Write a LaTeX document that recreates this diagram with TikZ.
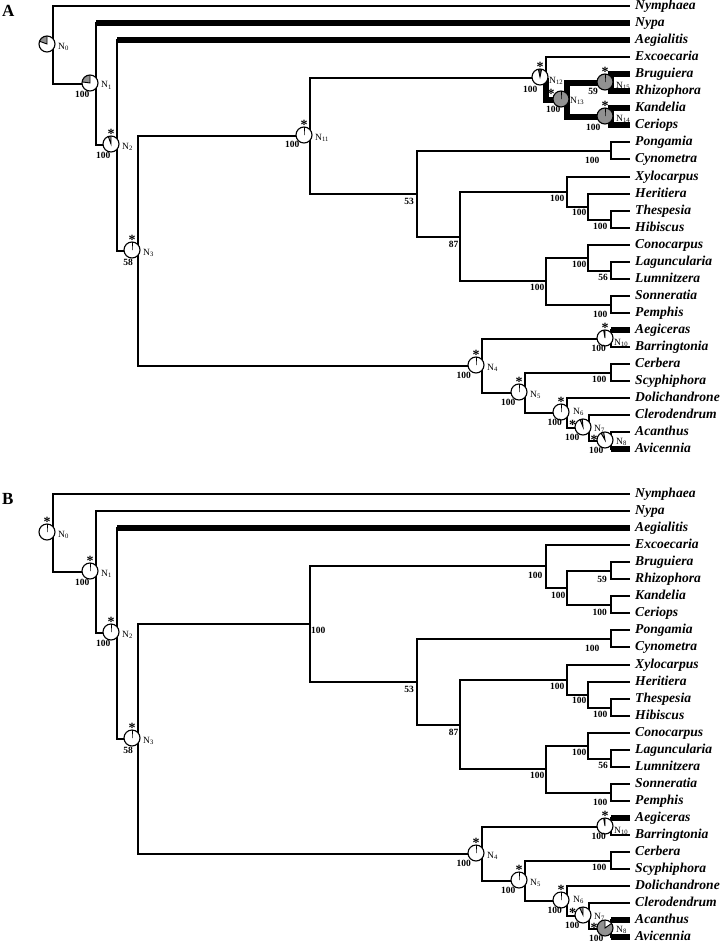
\documentclass[tikz,border=0pt]{standalone}
\usepackage{fontspec}
\setmainfont{Liberation Serif}

\definecolor{stategrey}{RGB}{145,145,145}

\tikzset{
  branch/.style={line width=2pt},
  heavy/.style={line width=6pt},
  taxon/.style={anchor=west, inner xsep=5pt, inner ysep=0pt, text height=1.6ex, text depth=.25ex,
    font=\fontsize{13.6}{14}\selectfont\bfseries\itshape},
  boot/.style={anchor=north east, inner sep=0pt, font=\fontsize{9.5}{10}\selectfont\bfseries},
  nlab/.style={anchor=base west, inner sep=0pt, font=\fontsize{9.5}{10}\selectfont},
  ast/.style={anchor=base, inner sep=0pt, font=\fontsize{14}{14}\selectfont\bfseries},
  panel/.style={anchor=base west, inner sep=0pt, font=\fontsize{17}{17}\selectfont\bfseries},
  pics/statepie/.style n args={3}{code={
    \begin{scope}[x=1pt,y=1pt]
      \fill[white] (0,0) circle (8);
      \fill[#1] (0,0) -- (#2:8) arc[start angle=#2, end angle=#3, radius=8] -- cycle;
      \draw[line width=.9pt] (#2:8) -- (0,0) -- (#3:8);
      \draw[line width=1.1pt] (0,0) circle (8);
    \end{scope}}}
}

% the tree shared by both panels
\newcommand{\mangrovetree}{%
  \node[taxon] (Nymphaea) at (630,5) {Nymphaea};
  \node[taxon] (Nypa) at (630,22) {Nypa};
  \node[taxon] (Aegialitis) at (630,39) {Aegialitis};
  \node[taxon] (Excoecaria) at (630,56) {Excoecaria};
  \node[taxon] (Bruguiera) at (630,73) {Bruguiera};
  \node[taxon] (Rhizophora) at (630,90) {Rhizophora};
  \node[taxon] (Kandelia) at (630,107) {Kandelia};
  \node[taxon] (Ceriops) at (630,124) {Ceriops};
  \node[taxon] (Pongamia) at (630,141) {Pongamia};
  \node[taxon] (Cynometra) at (630,158) {Cynometra};
  \node[taxon] (Xylocarpus) at (630,176) {Xylocarpus};
  \node[taxon] (Heritiera) at (630,193) {Heritiera};
  \node[taxon] (Thespesia) at (630,210) {Thespesia};
  \node[taxon] (Hibiscus) at (630,227) {Hibiscus};
  \node[taxon] (Conocarpus) at (630,244) {Conocarpus};
  \node[taxon] (Laguncularia) at (630,261) {Laguncularia};
  \node[taxon] (Lumnitzera) at (630,278) {Lumnitzera};
  \node[taxon] (Sonneratia) at (630,295) {Sonneratia};
  \node[taxon] (Pemphis) at (630,312) {Pemphis};
  \node[taxon] (Aegiceras) at (630,329) {Aegiceras};
  \node[taxon] (Barringtonia) at (630,346) {Barringtonia};
  \node[taxon] (Cerbera) at (630,363) {Cerbera};
  \node[taxon] (Scyphiphora) at (630,380) {Scyphiphora};
  \node[taxon] (Dolichandrone) at (630,397) {Dolichandrone};
  \node[taxon] (Clerodendrum) at (630,414) {Clerodendrum};
  \node[taxon] (Acanthus) at (630,431) {Acanthus};
  \node[taxon] (Avicennia) at (630,448) {Avicennia};
  % internal nodes
  \coordinate (N15) at (611,82);
  \coordinate (N14) at (611,116);
  \coordinate (N13) at (567,99);
  \coordinate (N12) at (546,77);
  \coordinate (Pon) at (611,150);
  \coordinate (The) at (611,219);
  \coordinate (Her) at (588,206);
  \coordinate (Xyl) at (567,191);
  \coordinate (Lag) at (611,270);
  \coordinate (Con) at (588,257);
  \coordinate (Son) at (611,304);
  \coordinate (Myr) at (546,280);
  \coordinate (M87) at (460,236);
  \coordinate (M53) at (417,193);
  \coordinate (N11) at (310,135);
  \coordinate (N10) at (611,338);
  \coordinate (Cer) at (611,372);
  \coordinate (N8) at (611,440);
  \coordinate (N7) at (589,427);
  \coordinate (N6) at (567,412);
  \coordinate (N5) at (525,392);
  \coordinate (N4) at (482,365);
  \coordinate (N3) at (138,250);
  \coordinate (N2) at (117,144);
  \coordinate (N1) at (96,83);
  \coordinate (N0) at (53,44);
  % branches
  \draw[branch] (N0) |- (Nymphaea.west) (N0) |- (N1)
    (N1) |- (Nypa.west) (N1) |- (N2)
    (N2) |- (Aegialitis.west) (N2) |- (N3)
    (N3) |- (N11) (N3) |- (N4)
    (N11) |- (N12) (N11) |- (M53)
    (N12) |- (Excoecaria.west) (N12) |- (N13)
    (N13) |- (N15) (N13) |- (N14)
    (N15) |- (Bruguiera.west) (N15) |- (Rhizophora.west)
    (N14) |- (Kandelia.west) (N14) |- (Ceriops.west)
    (M53) |- (Pon) (M53) |- (M87)
    (Pon) |- (Pongamia.west) (Pon) |- (Cynometra.west)
    (M87) |- (Xyl) (M87) |- (Myr)
    (Xyl) |- (Xylocarpus.west) (Xyl) |- (Her)
    (Her) |- (Heritiera.west) (Her) |- (The)
    (The) |- (Thespesia.west) (The) |- (Hibiscus.west)
    (Myr) |- (Con) (Myr) |- (Son)
    (Con) |- (Conocarpus.west) (Con) |- (Lag)
    (Lag) |- (Laguncularia.west) (Lag) |- (Lumnitzera.west)
    (Son) |- (Sonneratia.west) (Son) |- (Pemphis.west)
    (N4) |- (N10) (N4) |- (N5)
    (N10) |- (Aegiceras.west) (N10) |- (Barringtonia.west)
    (N5) |- (Cer) (N5) |- (N6)
    (Cer) |- (Cerbera.west) (Cer) |- (Scyphiphora.west)
    (N6) |- (Dolichandrone.west) (N6) |- (N7)
    (N7) |- (Clerodendrum.west) (N7) |- (N8)
    (N8) |- (Acanthus.west) (N8) |- (Avicennia.west);
  % support values
  \node[boot] (sPon) at ([shift={(-11.5,5.5)}]Pon) {100};
  \node[boot] (sXyl) at ([shift={(-2.5,3)}]Xyl) {100};
  \node[boot] (sHer) at ([shift={(-1.5,2)}]Her) {100};
  \node[boot] (sThe) at ([shift={(-3.5,2.5)}]The) {100};
  \node[boot] (sCon) at ([shift={(-1.5,3)}]Con) {100};
  \node[boot] (sLag) at ([shift={(-3,3.5)}]Lag) {56};
  \node[boot] (sMyr) at ([shift={(-1.5,3)}]Myr) {100};
  \node[boot] (sSon) at ([shift={(-3.5,5.5)}]Son) {100};
  \node[boot] (sCer) at ([shift={(-4.5,2.5)}]Cer) {100};
  \node[boot] (s53) at ([shift={(-3,4.5)}]M53) {53};
  \node[boot] (s87) at ([shift={(-1.5,3.5)}]M87) {87};
}

% pie node labels shared by both panels
\newcommand{\mangrovelabels}{%
  \node[boot] (sN1) at ([shift={(-6.5,7)}]N1) {100};
  \node[boot] (sN2) at ([shift={(-6.5,6.5)}]N2) {100};
  \node[boot] (sN3) at ([shift={(-5,8)}]N3) {58};
  \node[boot] (sN4) at ([shift={(-11,5.5)}]N4) {100};
  \node[boot] (sN5) at ([shift={(-9.5,6)}]N5) {100};
  \node[boot] (sN6) at ([shift={(-5,6)}]N6) {100};
  \node[boot] (sN7) at ([shift={(-9.5,5.5)}]N7) {100};
  \node[boot] (sN8) at ([shift={(-7.5,5.5)}]N8) {100};
  \node[boot] (sN10) at ([shift={(-5,5.5)}]N10) {100};
  \node[nlab] (lN0) at ([shift={(5,4)}]N0) {N\textsubscript{0}};
  \node[nlab] (lN1) at ([shift={(5,4)}]N1) {N\textsubscript{1}};
  \node[nlab] (lN2) at ([shift={(5,4)}]N2) {N\textsubscript{2}};
  \node[nlab] (lN3) at ([shift={(5,4)}]N3) {N\textsubscript{3}};
  \node[nlab] (lN4) at ([shift={(5,4)}]N4) {N\textsubscript{4}};
  \node[nlab] (lN5) at ([shift={(5,4)}]N5) {N\textsubscript{5}};
  \node[nlab] (lN6) at ([shift={(6,1.5)}]N6) {N\textsubscript{6}};
  \node[nlab] (lN7) at ([shift={(5,3)}]N7) {N\textsubscript{7}};
  \node[nlab] (lN8) at ([shift={(5,3)}]N8) {N\textsubscript{8}};
  \node[nlab] (lN10) at ([shift={(3,6.5)}]N10) {N\textsubscript{10}};
}

\begin{document}
\begin{tikzpicture}[x=1pt, y=-1pt]
\useasboundingbox (0,0) rectangle (720,942);

% panel A
\begin{scope}[shift={(0,1)}, name prefix=a-]
\node[panel] (title) at (2,16) {A};
\mangrovetree
\draw[heavy] (N1 |- Nypa.west) -- (Nypa.west);
\draw[heavy] (N2 |- Aegialitis.west) -- (Aegialitis.west);
\draw[heavy] (N12) |- (N13) (N13) |- (N15) (N13) |- (N14)
  (N15) |- (Bruguiera.west) (N15) |- (Rhizophora.west)
  (N14) |- (Kandelia.west) (N14) |- (Ceriops.west);
\draw[heavy] (N10 |- Aegiceras.west) -- (Aegiceras.west);
\draw[heavy] (N8 |- Avicennia.west) -- (Avicennia.west);
\pic at ([shift={(-6,-1)}]N0) {statepie={stategrey}{90}{160}};
\pic at ([shift={(-6,-1)}]N1) {statepie={stategrey}{90}{172}};
\pic at ([shift={(-6,-1)}]N2) {statepie={stategrey}{90}{110}};
\pic at ([shift={(-6,-1)}]N3) {statepie={white}{90}{90}};
\pic at ([shift={(-6,-1)}]N11) {statepie={white}{90}{90}};
\pic at ([shift={(-6,-1)}]N12) {statepie={black!75}{78}{102}};
\pic at ([shift={(-6,-1)}]N13) {statepie={stategrey}{90}{450}};
\pic at ([shift={(-6,-1)}]N15) {statepie={stategrey}{90}{450}};
\pic at ([shift={(-6,-1)}]N14) {statepie={stategrey}{90}{450}};
\pic at ([shift={(-6,-1)}]N10) {statepie={stategrey}{90}{100}};
\pic at ([shift={(-6,-1)}]N4) {statepie={white}{90}{90}};
\pic at ([shift={(-6,-1)}]N5) {statepie={white}{90}{90}};
\pic at ([shift={(-6,-1)}]N6) {statepie={white}{90}{90}};
\pic at ([shift={(-6,-1)}]N7) {statepie={stategrey}{95}{112}};
\pic at ([shift={(-6,-1)}]N8) {statepie={stategrey}{100}{120}};
\node[ast] (xN2) at ([shift={(-6,-6.5)}]N2) {*};
\node[ast] (xN3) at ([shift={(-6,-6.5)}]N3) {*};
\node[ast] (xN11) at ([shift={(-6,-6.5)}]N11) {*};
\node[ast] (xN12) at ([shift={(-6,-6.5)}]N12) {*};
\node[ast] (xN13) at ([shift={(-16,-2)}]N13) {*};
\node[ast] (xN15) at ([shift={(-6,-6.5)}]N15) {*};
\node[ast] (xN14) at ([shift={(-6,-6.5)}]N14) {*};
\node[ast] (xN10) at ([shift={(-6,-6.5)}]N10) {*};
\node[ast] (xN4) at ([shift={(-6,-6.5)}]N4) {*};
\node[ast] (xN5) at ([shift={(-6,-6.5)}]N5) {*};
\node[ast] (xN6) at ([shift={(-6,-6.5)}]N6) {*};
\node[ast] (xN7) at ([shift={(-16.5,1.5)}]N7) {*};
\node[ast] (xN8) at ([shift={(-17,3)}]N8) {*};
\mangrovelabels
\node[boot] (sN11) at ([shift={(-10.5,5)}]N11) {100};
\node[boot] (sN12) at ([shift={(-8.5,7.5)}]N12) {100};
\node[boot] (sN13) at ([shift={(-6.5,5.5)}]N13) {100};
\node[boot] (sN15) at ([shift={(-13,5.5)}]N15) {59};
\node[boot] (sN14) at ([shift={(-10.5,6.5)}]N14) {100};
\node[nlab] (lN11) at ([shift={(5,4)}]N11) {N\textsubscript{11}};
\node[nlab] (lN12) at ([shift={(3,5)}]N12) {N\textsubscript{12}};
\node[nlab] (lN13) at ([shift={(3,3.5)}]N13) {N\textsubscript{13}};
\node[nlab] (lN15) at ([shift={(5,5.5)}]N15) {N\textsubscript{15}};
\node[nlab] (lN14) at ([shift={(5,4.5)}]N14) {N\textsubscript{14}};
\end{scope}

% panel B
\begin{scope}[shift={(0,489)}, name prefix=b-]
\node[panel] (title) at (2,15) {B};
\mangrovetree
\draw[heavy] (N2 |- Aegialitis.west) -- (Aegialitis.west);
\draw[heavy] (N10 |- Aegiceras.west) -- (Aegiceras.west);
\draw[heavy] (N8 |- Acanthus.west) -- (Acanthus.west);
\draw[heavy] (N8 |- Avicennia.west) -- (Avicennia.west);
\pic at ([shift={(-6,-1)}]N0) {statepie={white}{90}{90}};
\pic at ([shift={(-6,-1)}]N1) {statepie={white}{90}{90}};
\pic at ([shift={(-6,-1)}]N2) {statepie={white}{90}{90}};
\pic at ([shift={(-6,-1)}]N3) {statepie={white}{90}{90}};
\pic at ([shift={(-6,-1)}]N10) {statepie={stategrey}{90}{100}};
\pic at ([shift={(-6,-1)}]N4) {statepie={white}{90}{90}};
\pic at ([shift={(-6,-1)}]N5) {statepie={white}{90}{90}};
\pic at ([shift={(-6,-1)}]N6) {statepie={white}{90}{90}};
\pic at ([shift={(-6,-1)}]N7) {statepie={stategrey}{90}{115}};
\pic at ([shift={(-6,-1)}]N8) {statepie={stategrey}{90}{395}};
\node[ast] (xN0) at ([shift={(-6,-6.5)}]N0) {*};
\node[ast] (xN1) at ([shift={(-6,-6.5)}]N1) {*};
\node[ast] (xN2) at ([shift={(-6,-6.5)}]N2) {*};
\node[ast] (xN3) at ([shift={(-6,-6.5)}]N3) {*};
\node[ast] (xN10) at ([shift={(-6,-6.5)}]N10) {*};
\node[ast] (xN4) at ([shift={(-6,-6.5)}]N4) {*};
\node[ast] (xN5) at ([shift={(-6,-6.5)}]N5) {*};
\node[ast] (xN6) at ([shift={(-6,-6.5)}]N6) {*};
\node[ast] (xN7) at ([shift={(-16.5,1.5)}]N7) {*};
\node[ast] (xN8) at ([shift={(-17,3)}]N8) {*};
\mangrovelabels
\node[boot] (sN11) at ([shift={(15.5,3)}]N11) {100};
\node[boot] (sN12) at ([shift={(-3.5,6)}]N12) {100};
\node[boot] (sN13) at ([shift={(-1.5,3.5)}]N13) {100};
\node[boot] (sN15) at ([shift={(-4,5.5)}]N15) {59};
\node[boot] (sN14) at ([shift={(-4,3.5)}]N14) {100};
\end{scope}
\end{tikzpicture}
\end{document}
